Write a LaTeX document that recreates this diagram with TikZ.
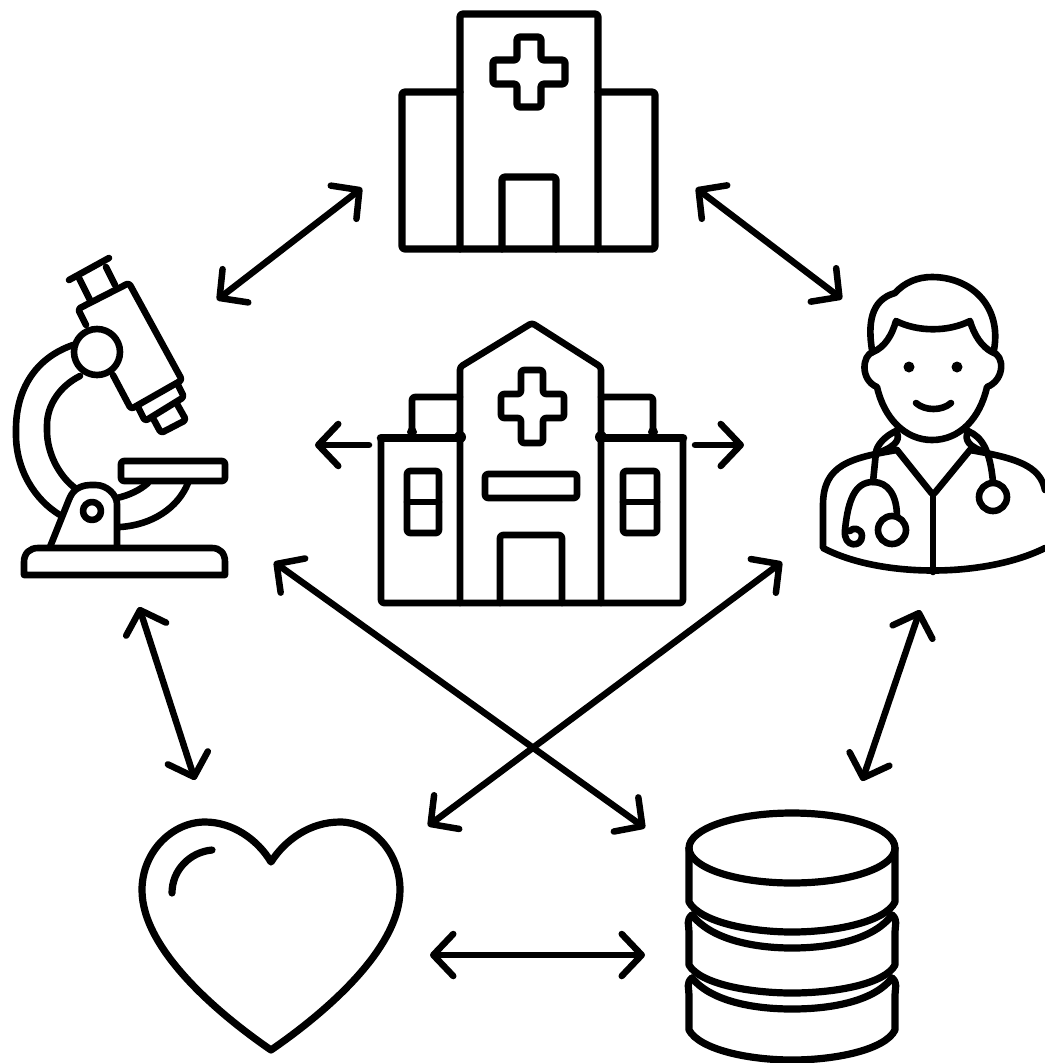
\documentclass[tikz,border=0pt]{standalone}
\usepackage{tikz}
\usetikzlibrary{arrows.meta}

\begin{document}
\begin{tikzpicture}[x=0.01cm,y=-0.01cm,>={Straight Barb[length=0.2cm,width=0.42cm,round]},
	icon/.style={line width=0.066cm,line join=round,line cap=round,rounded corners=0.8pt},
	bigicon/.style={icon,line width=0.072cm},
	thickicon/.style={icon,line width=0.085cm},
	link/.style={<->,line width=0.065cm,line cap=round},
	linkout/.style={->,line width=0.065cm,line cap=round}]
	\useasboundingbox (0,0) rectangle (1045,1063);
	\fill[white] (0,0) rectangle (1045,1063);

	\draw[bigicon] (460,249) -- (460,14) -- (598,14) -- (598,249);
	\draw[bigicon] (460,92) -- (402,92) -- (402,249) -- (655,249) -- (655,92) -- (598,92);
	\draw[bigicon] (502,249) -- (502,177) -- (556,177) -- (556,249);
	\draw[bigicon] (517,37) -- (541,37) -- (541,60) -- (565,60) -- (565,84) -- (541,84) -- (541,107) -- (517,107) -- (517,84) -- (493,84) -- (493,60) -- (517,60) -- cycle;

	\draw[icon] (460,603) -- (460,367) -- (532,323) -- (601,367) -- (601,603);
	\draw[icon] (412,430) -- (412,397) -- (460,397);
	\draw[icon] (601,397) -- (653,397) -- (653,430);
	\draw[thickicon] (381,438) -- (460,438);
	\draw[thickicon] (601,438) -- (683,438);
	\fill (412,432) circle (5);
	\fill (653,432) circle (5);
	\fill (460,437) circle (6);
	\fill (601,437) circle (6);
	\draw[icon] (381,438) -- (381,603) -- (683,603) -- (683,438);
	\draw[icon] (407,471) rectangle (439,533);
	\draw[icon] (407,502) -- (439,502);
	\draw[icon] (623,471) rectangle (657,533);
	\draw[icon] (623,502) -- (657,502);
	\draw[icon] (485,474) rectangle (577,498);
	\draw[icon] (500,603) -- (500,535) -- (562,535) -- (562,603);
	\draw[icon] (521,370) -- (543,370) -- (543,394) -- (564,394) -- (564,418) -- (543,418) -- (543,443) -- (521,443) -- (521,418) -- (501,418) -- (501,394) -- (521,394) -- cycle;

	\draw[icon] (69,280) -- (109,258);
	\draw[icon] (79,278) -- (90,300);
	\draw[icon] (106,267) -- (115,285);
	\draw[icon] (86,325) -- (78,309) -- (129,283) -- (182,380) -- (131,409) -- (113,375);
	\draw[icon] (138,407) -- (145,421) -- (184,397) -- (177,383);
	\draw[icon] (154,420) -- (161,433) -- (186,420) -- (177,404);
	\draw[icon] (97,352) circle (23);
	\draw[icon] (73,345) .. controls (35,358) and (16,390) .. (16,432) .. controls (16,470) and (35,500) .. (60,515);
	\draw[icon] (80,376) .. controls (60,386) and (47,405) .. (47,428) .. controls (47,452) and (58,475) .. (75,488);
	\draw[icon] (121,461) rectangle (225,481);
	\draw[icon] (148,483) .. controls (140,490) and (130,495) .. (117,498);
	\draw[icon] (188,483) .. controls (178,508) and (152,525) .. (120,527);
	\draw[icon] (50,547) -- (70,497) .. controls (76,487) and (85,485) .. (93,485) .. controls (107,485) and (117,495) .. (117,507) -- (117,547);
	\draw[icon] (92,511) circle (9);
	\draw[icon,rounded corners=0pt] (24,575) -- (24,562) .. controls (24,553) and (30,548) .. (38,548) -- (212,548) .. controls (220,548) and (225,553) .. (225,562) -- (225,575) -- cycle;

	\draw[icon,rounded corners=0pt] (872,350) .. controls (868,325) and (870,300) .. (895,293) .. controls (905,282) and (918,277) .. (932,277) .. controls (970,277) and (1002,305) .. (994,350);
	\draw[icon,rounded corners=0pt] (873,352) .. controls (885,347) and (892,335) .. (896,321) .. controls (918,332) and (948,332) .. (970,321) .. controls (974,335) and (982,347) .. (992,352);
	\draw[icon,rounded corners=0pt] (873,352) .. controls (862,355) and (860,380) .. (877,387) .. controls (884,418) and (905,440) .. (932,440) .. controls (960,440) and (980,418) .. (987,387) .. controls (1005,380) and (1005,355) .. (992,352);
	\fill (909,367) circle (5.5);
	\fill (957,367) circle (5.5);
	\draw[icon] (916,403) .. controls (925,411) and (942,411) .. (951,403);
	\draw[icon] (897,450) -- (933,495) -- (970,450);
	\draw[icon] (933,495) -- (933,572);
	\draw[icon,rounded corners=0pt] (897,450) .. controls (850,458) and (823,465) .. (823,505) -- (823,548) .. controls (880,578) and (985,578) .. (1045,548);
	\draw[icon,rounded corners=0pt] (970,450) .. controls (1015,458) and (1040,465) .. (1045,490);
	\draw[icon,rounded corners=0pt] (896,431) .. controls (885,436) and (877,445) .. (876,452) -- (873,482) .. controls (855,482) and (848,500) .. (845,530) .. controls (843,548) and (862,548) .. (862,536) .. controls (862,528) and (852,527) .. (850,531);
	\draw[icon,rounded corners=0pt] (873,482) .. controls (888,482) and (897,495) .. (897,517);
	\draw[icon,rounded corners=0pt] (896,431) .. controls (900,438) and (899,445) .. (878,453);
	\draw[icon] (892,530) circle (14);
	\draw[icon,rounded corners=0pt] (968,431) .. controls (982,437) and (990,450) .. (993,482);
	\draw[icon,rounded corners=0pt] (968,431) .. controls (964,440) and (968,447) .. (988,453);
	\draw[icon] (993,497) circle (14);

	\draw[bigicon,rounded corners=0pt] (271,862) .. controls (258,840) and (233,822) .. (205,822) .. controls (172,822) and (142,852) .. (142,890) .. controls (142,950) and (220,1015) .. (271,1050) .. controls (322,1015) and (400,950) .. (400,890) .. controls (400,852) and (372,822) .. (340,822) .. controls (310,822) and (285,840) .. (271,862) -- cycle;
	\draw[bigicon] (172,893) .. controls (172,870) and (190,852) .. (212,850);

	\draw[bigicon] (792,848) ellipse (103 and 35);
	\draw[bigicon,rounded corners=0pt] (689,848) -- (689,902) .. controls (700,922) and (750,932) .. (792,932) .. controls (835,932) and (885,922) .. (895,902) -- (895,848);
	\draw[bigicon,rounded corners=0pt] (692,915) .. controls (710,938) and (750,948) .. (792,948) .. controls (835,948) and (875,938) .. (892,915);
	\draw[bigicon,rounded corners=0pt] (692,915) .. controls (686,920) and (689,925) .. (689,932) -- (689,965) .. controls (700,984) and (750,993) .. (792,993) .. controls (835,993) and (885,984) .. (895,965) -- (895,932) .. controls (895,925) and (898,920) .. (892,915);
	\draw[bigicon,rounded corners=0pt] (692,978) .. controls (710,1000) and (750,1009) .. (792,1009) .. controls (835,1009) and (875,1000) .. (892,978);
	\draw[bigicon,rounded corners=0pt] (692,978) .. controls (686,983) and (689,988) .. (689,995) -- (689,1030) .. controls (700,1050) and (750,1060) .. (792,1060) .. controls (835,1060) and (885,1050) .. (895,1030) -- (895,995) .. controls (895,988) and (898,983) .. (892,978);

	\coordinate (hospitalW) at (362,188);
	\coordinate (scopeNE) at (217,300);
	\coordinate (hospitalE) at (696,188);
	\coordinate (doctorNW) at (842,299);
	\coordinate (scopeS) at (139,607);
	\coordinate (heartN) at (195,780);
	\coordinate (doctorS) at (920,610);
	\coordinate (dataN) at (862,781);
	\coordinate (scopeSE) at (274,562);
	\coordinate (dataNW) at (645,828);
	\coordinate (doctorSW) at (782,562);
	\coordinate (heartNE) at (428,826);
	\coordinate (heartE) at (430,955);
	\coordinate (dataW) at (645,955);
	\coordinate (centreW) at (369,445);
	\coordinate (centreWtip) at (315,445);
	\coordinate (centreE) at (695,445);
	\coordinate (centreEtip) at (744,445);
	\draw[link] (hospitalW) -- (scopeNE);
	\draw[link] (hospitalE) -- (doctorNW);
	\draw[link] (scopeS) -- (heartN);
	\draw[link] (doctorS) -- (dataN);
	\draw[link] (scopeSE) -- (dataNW);
	\draw[link] (doctorSW) -- (heartNE);
	\draw[link] (heartE) -- (dataW);
	\draw[linkout] (centreW) -- (centreWtip);
	\draw[linkout] (centreE) -- (centreEtip);
\end{tikzpicture}
\end{document}
